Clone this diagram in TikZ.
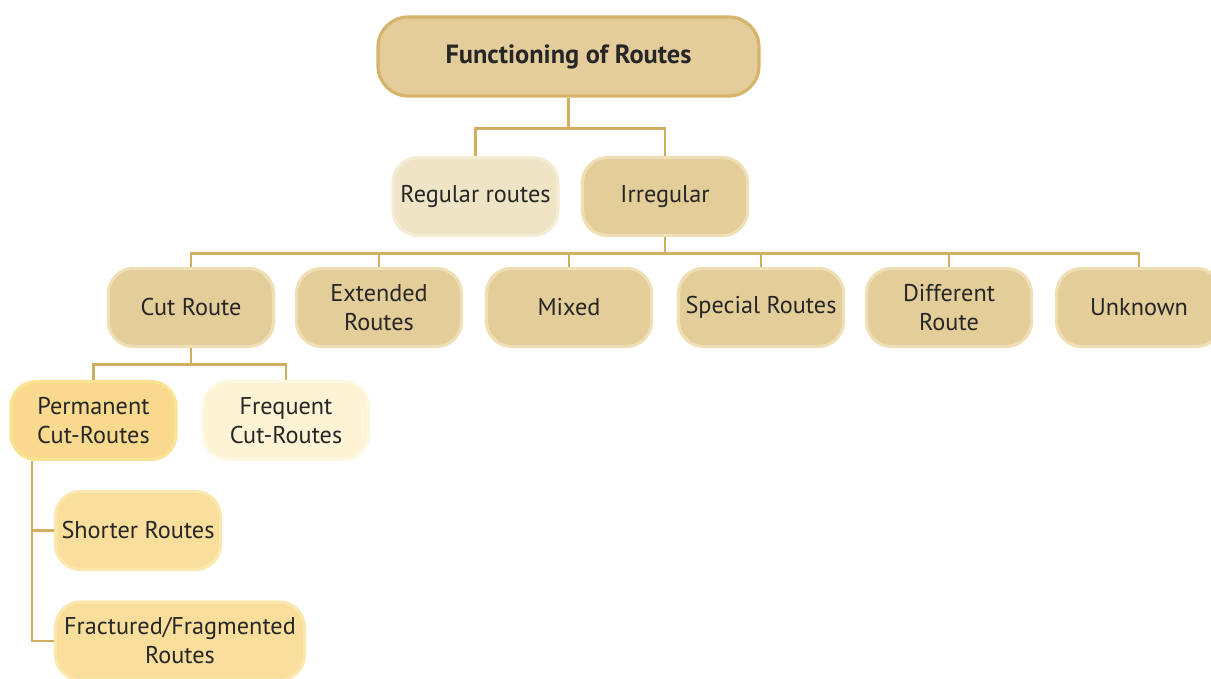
\documentclass[tikz,border=0pt]{standalone}
\usepackage{fontspec}
\setmainfont{PT Sans}
\usepackage{tikz}
\usetikzlibrary{positioning, calc}

\definecolor{linegold}{HTML}{D2AF5F}
\definecolor{topfill}{HTML}{E4CD9A}
\definecolor{topedge}{HTML}{D5B46B}
\definecolor{midfill}{HTML}{E3CD99}
\definecolor{midedge}{HTML}{EEDFB4}
\definecolor{palefill}{HTML}{EFE4C6}
\definecolor{paleedge}{HTML}{F4ECD4}
\definecolor{permfill}{HTML}{F9D98D}
\definecolor{permedge}{HTML}{FBE394}
\definecolor{freqfill}{HTML}{FEF3D4}
\definecolor{freqedge}{HTML}{FEF7E2}
\definecolor{leaffill}{HTML}{FADF9C}
\definecolor{leafedge}{HTML}{FCE8AE}

\begin{document}
\begin{tikzpicture}[
  font=\fontsize{13.8}{16.5}\selectfont,
  box/.style={rounded corners=0.5cm, minimum width=3.3cm, minimum height=1.56cm,
    align=center, line width=1.8pt, text=black!85, inner sep=2pt},
  midbox/.style={box, fill=midfill, draw=midedge},
  leafbox/.style={box, fill=leaffill, draw=leafedge},
  link/.style={draw=linegold, line width=1.4pt}
]

% Manually size the picture
\useasboundingbox (0, 0) rectangle (24.22, 13.58);

% Top node
\node[box, fill=topfill, draw=topedge, rounded corners=0.6cm, minimum width=7.62cm,
  minimum height=1.58cm, font=\fontsize{15}{17}\selectfont\bfseries] (top) at (11.37, 12.45) {Functioning of Routes};

% Second row
\node[box, fill=palefill, draw=paleedge] (regular) at (9.51, 9.65) {Regular routes};
\node[midbox] (irregular) at (13.30, 9.65) {Irregular};

% Third row
\node[midbox] (cut) at (3.82, 7.43) {Cut Route};
\node[midbox] (extended) at (7.58, 7.43) {Extended\\Routes};
\node[midbox] (mixed) at (11.38, 7.43) {Mixed};
\node[midbox] (special) at (15.22, 7.43) {Special Routes};
\node[midbox] (different) at (18.98, 7.43) {Different\\Route};
\node[midbox] (unknown) at (22.78, 7.43) {Unknown};

% Cut route branches
\node[box, fill=permfill, draw=permedge] (permanent) at (1.87, 5.17) {Permanent\\Cut-Routes};
\node[box, fill=freqfill, draw=freqedge] (frequent) at (5.72, 5.17) {Frequent\\Cut-Routes};

% Permanent cut-route leaves
\node[leafbox] (shorter) at (2.76, 2.97) {Shorter Routes};
\node[leafbox, minimum width=4.98cm] (fractured) at (3.60, 0.76) {Fractured/Fragmented\\Routes};

% Links from the top
\coordinate (fork1) at ($(top.south)+(0,-0.62)$);
\draw[link] (top.south) -- (fork1);
\draw[link] (fork1) -| (regular.north);
\draw[link] (fork1) -| (irregular.north);

% Links from irregular
\coordinate (fork2) at ($(irregular.south)+(0,-0.33)$);
\draw[link] (irregular.south) -- (fork2);
\foreach \n in {cut, extended, mixed, special, different, unknown}
  \draw[link] (fork2) -| (\n.north);

% Links from cut route
\coordinate (fork3) at ($(cut.south)+(0,-0.33)$);
\draw[link] (cut.south) -- (fork3);
\draw[link] (fork3) -| (permanent.north);
\draw[link] (fork3) -| (frequent.north);

% Links from permanent
\coordinate (trunk) at ([xshift=-1.23cm]permanent.south);
\draw[link] (trunk) |- (shorter.west);
\draw[link] (trunk) |- (fractured.west);

\end{tikzpicture}
\end{document}
